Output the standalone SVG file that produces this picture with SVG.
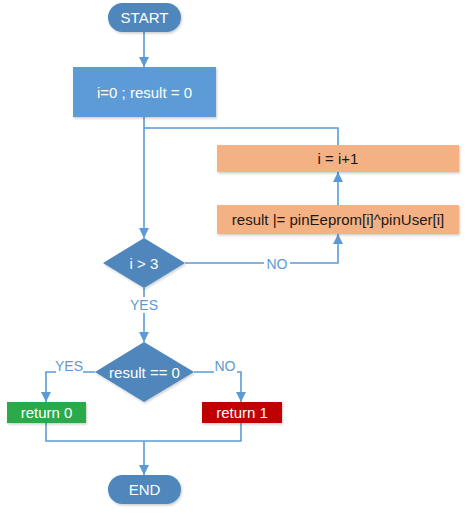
<svg xmlns="http://www.w3.org/2000/svg" width="466" height="514" viewBox="0 0 466 514">
<style>
.t{font-family:"Liberation Sans",Arial,sans-serif;font-size:15px;text-anchor:middle;dominant-baseline:central}
.w{fill:#ffffff}
.d{fill:#1a1a1a}
.lbl{font-family:"Liberation Sans",Arial,sans-serif;font-size:14px;fill:#5B9BD5;text-anchor:middle;dominant-baseline:central}
.c{fill:none;stroke:#5B9BD5;stroke-width:1.6}
.sh{filter:url(#s)}
</style>
<defs>
<marker id="a" viewBox="0 0 10 10" refX="10" refY="5" markerWidth="10" markerHeight="11" markerUnits="userSpaceOnUse" orient="auto">
<path d="M0,0 L10,5 L0,10 Z" fill="#5B9BD5"/>
</marker>
<filter id="s" x="-10%" y="-10%" width="125%" height="130%">
<feDropShadow dx="1" dy="1.5" stdDeviation="1.2" flood-color="#000" flood-opacity="0.2"/>
</filter>
</defs>
<g id="connectors">
<path class="c" d="M144,32 V67" marker-end="url(#a)"/>
<path class="c" d="M144,117 V238" marker-end="url(#a)"/>
<path class="c" d="M144,128 H338 V145"/>
<path class="c" d="M338,205 V172" marker-end="url(#a)"/>
<path class="c" d="M185,263 H338 V234" marker-end="url(#a)"/>
<path class="c" d="M144,288 V342" marker-end="url(#a)"/>
<path class="c" d="M95,372 H46 V402" marker-end="url(#a)"/>
<path class="c" d="M194,372 H241 V402" marker-end="url(#a)"/>
<path class="c" d="M46,423 V441 H241 V423"/>
<path class="c" d="M144,441 V475" marker-end="url(#a)"/>
<rect x="264" y="255" width="26" height="16" fill="#fff"/>
<text class="lbl" x="277" y="264">NO</text>
<rect x="129" y="297" width="30" height="16" fill="#fff"/>
<text class="lbl" x="144" y="305">YES</text>
<rect x="56" y="359" width="27" height="15" fill="#fff"/>
<text class="lbl" x="69" y="366">YES</text>
<rect x="214" y="359" width="23" height="15" fill="#fff"/>
<text class="lbl" x="225" y="366">NO</text>
</g>
<g id="start">
<rect class="sh" x="108" y="3" width="73" height="29" rx="14.5" fill="#4F86BC"/>
<text class="t w" x="144.5" y="17.5">START</text>
</g>
<g id="init">
<rect class="sh" x="73" y="67" width="143" height="50" fill="#5B9BD5"/>
<text class="t w" x="144.5" y="92">i=0 ; result = 0</text>
</g>
<g id="inc">
<rect class="sh" x="217" y="145" width="242" height="27" fill="#F4B183"/>
<text class="t d" x="338" y="158.5">i = i+1</text>
</g>
<g id="xor">
<rect class="sh" x="217" y="205" width="242" height="29" fill="#F4B183"/>
<text class="t d" x="338" y="219.5">result |= pinEeprom[i]^pinUser[i]</text>
</g>
<g id="cond1">
<path class="sh" d="M144,238 L185,263 L144,288 L103,263 Z" fill="#4F86BC"/>
<text class="t w" x="144" y="263">i &gt; 3</text>
</g>
<g id="cond2">
<path class="sh" d="M144,342 L194,372 L144,402 L95,372 Z" fill="#4F86BC"/>
<text class="t w" x="144.5" y="372">result == 0</text>
</g>
<g id="ret0">
<rect class="sh" x="7" y="402" width="79" height="21" fill="#2BAA4B"/>
<text class="t w" x="46.5" y="412.5">return 0</text>
</g>
<g id="ret1">
<rect class="sh" x="202" y="402" width="80" height="21" fill="#C00000"/>
<text class="t w" x="242" y="412.5">return 1</text>
</g>
<g id="end">
<rect class="sh" x="108" y="475" width="73" height="29" rx="14.5" fill="#4F86BC"/>
<text class="t w" x="144.5" y="489.5">END</text>
</g>
</svg>
